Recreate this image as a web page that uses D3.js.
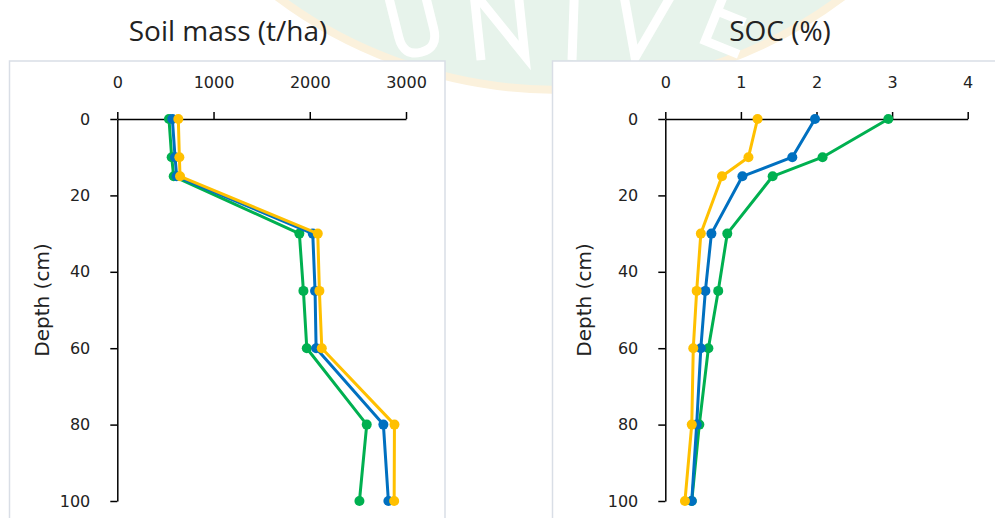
<!DOCTYPE html>
<html>
<head>
<meta charset="utf-8">
<script src="https://cdn.jsdelivr.net/npm/d3@7"></script>
<style>
  body { margin: 0; background: #fff; }
</style>
</head>
<body>
<script>
// depth of each sample (cm)
const depths = [0, 10, 15, 30, 45, 60, 80, 100];

// soil mass (t/ha)
const massGreen  = [537, 565, 586, 1892, 1934, 1969, 2592, 2516];
const massBlue   = [572, 600, 617, 2031, 2055, 2066, 2765, 2817];
const massYellow = [634, 645, 652, 2083, 2100, 2125, 2880, 2877];

// SOC (%)
const socGreen  = [2.95, 2.08, 1.42, 0.82, 0.70, 0.57, 0.45, 0.35];
const socBlue   = [1.98, 1.68, 1.02, 0.61, 0.53, 0.47, 0.415, 0.35];
const socYellow = [1.22, 1.10, 0.75, 0.47, 0.415, 0.37, 0.35, 0.26];

const massTicks = [0, 1000, 2000, 3000];
const socTicks = [0, 1, 2, 3, 4];
const depthTicks = [0, 20, 40, 60, 80, 100];

const colors = { green: "#00B050", blue: "#0070C0", yellow: "#FFC000" };

const width = 995, height = 518;

const svg = d3.select("body").append("svg")
  .attr("width", width)
  .attr("height", height);

// faint logo watermark behind the panels (drawn as shapes)
const wm = svg.append("g");
wm.append("ellipse")
  .attr("cx", 560).attr("cy", -330)
  .attr("rx", 450).attr("ry", 420)
  .attr("fill", "#e7f3eb")
  .attr("stroke", "#fbf1dc")
  .attr("stroke-width", 8);
const glyphs = [
  { d: "M-18,-40 L-18,5 Q-18,25 0,25 Q18,25 18,5 L18,-40", at: [415, 28], rot: -14 },
  { d: "M-22,28 L-22,-40 L22,28 L22,-40", at: [500, 30], rot: -6 },
  { d: "M0,-40 L0,28", at: [573, 32], rot: 2 },
  { d: "M-25,-40 L0,28 L25,-40", at: [640, 30], rot: 10 },
  { d: "M22,-40 L-14,-40 L-14,26 L22,26 M-14,-6 L16,-6", at: [728, 22], rot: 22 }
];
wm.selectAll("path").data(glyphs).enter().append("path")
  .attr("transform", d => "translate(" + d.at[0] + "," + d.at[1] + ") rotate(" + d.rot + ")")
  .attr("d", d => d.d)
  .attr("fill", "none")
  .attr("stroke", "#ffffff")
  .attr("stroke-width", 9);

// y scale shared
const y = d3.scaleLinear().domain([0, 100]).range([119, 501]);

function styleAxis(a) {
  a.select(".domain").attr("stroke", "#000").attr("stroke-width", 1.5);
  a.selectAll(".tick line").attr("stroke", "#000").attr("stroke-width", 1.5);
  a.selectAll(".tick text")
    .attr("font-family", "DejaVu Sans, Verdana, sans-serif")
    .attr("font-size", 16)
    .attr("fill", "#222");
}

function panel(opts) {
  const g = svg.append("g");

  g.append("rect")
    .attr("x", opts.box[0]).attr("y", 61)
    .attr("width", opts.box[1]).attr("height", 480)
    .attr("fill", "#fff")
    .attr("stroke", "#d9dee6")
    .attr("stroke-width", 1.5);

  svg.append("text")
    .attr("x", opts.titleX).attr("y", 41)
    .attr("text-anchor", "middle")
    .attr("font-family", "Open Sans, sans-serif")
    .attr("font-size", 28)
    .attr("fill", "#222")
    .text(opts.title);

  const x = d3.scaleLinear().domain(opts.domain).range(opts.range);

  g.append("g")
    .attr("transform", "translate(0," + y(0) + ")")
    .call(d3.axisTop(x).tickValues(opts.ticks).tickFormat(d3.format("d"))
      .tickSize(7).tickSizeOuter(0).tickPadding(24))
    .call(styleAxis);

  g.append("g")
    .attr("transform", "translate(" + x(0) + ",0)")
    .call(d3.axisLeft(y).tickValues(depthTicks).tickFormat(d3.format("d"))
      .tickSize(7).tickSizeOuter(0).tickPadding(20))
    .call(styleAxis);

  g.append("text")
    .attr("transform", "translate(" + opts.labelX + ",300) rotate(-90)")
    .attr("text-anchor", "middle")
    .attr("dy", "0.35em")
    .attr("font-family", "DejaVu Sans, Verdana, sans-serif")
    .attr("font-size", 20)
    .attr("fill", "#222")
    .text("Depth (cm)");

  const line = d3.line()
    .x(d => x(d[0]))
    .y(d => y(d[1]));

  opts.series.forEach(s => {
    const pts = s.values.map((v, i) => [v, depths[i]]);
    const sg = g.append("g");
    sg.append("path")
      .datum(pts)
      .attr("fill", "none")
      .attr("stroke", s.color)
      .attr("stroke-width", 3)
      .attr("stroke-linejoin", "round")
      .attr("d", line);
    sg.selectAll("circle").data(pts).enter().append("circle")
      .attr("cx", d => x(d[0]))
      .attr("cy", d => y(d[1]))
      .attr("r", 5)
      .attr("fill", s.color);
  });
}

panel({
  title: "Soil mass (t/ha)", titleX: 228,
  box: [9.5, 435.5], labelX: 42,
  domain: [0, 3000], range: [117.3, 406], ticks: massTicks,
  series: [
    { values: massGreen, color: colors.green },
    { values: massBlue, color: colors.blue },
    { values: massYellow, color: colors.yellow }
  ]
});

panel({
  title: "SOC (%)", titleX: 780,
  box: [552.5, 460], labelX: 584,
  domain: [0, 4], range: [665.3, 967.7], ticks: socTicks,
  series: [
    { values: socGreen, color: colors.green },
    { values: socBlue, color: colors.blue },
    { values: socYellow, color: colors.yellow }
  ]
});
</script>
</body>
</html>
